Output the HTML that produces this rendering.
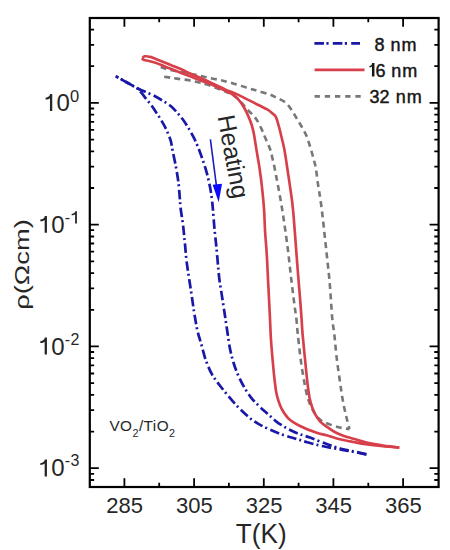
<!DOCTYPE html>
<html><head><meta charset="utf-8"><style>
html,body{margin:0;padding:0;background:#fff;width:450px;height:550px;overflow:hidden}
svg{display:block;font-family:"Liberation Sans",sans-serif}
</style></head><body>
<svg width="450" height="550" viewBox="0 0 450 550">
<rect width="450" height="550" fill="#fff"/>
<g fill="none" stroke-linejoin="round">
<path d="M160.7,67.1 C162.3,67.6 164.8,68.8 170.2,70.0 C175.6,71.2 187.2,73.1 193.0,74.3 C198.8,75.5 200.8,76.1 205.0,77.0 C209.2,77.9 213.9,78.7 218.3,79.7 C222.8,80.7 226.9,81.7 231.7,83.0 C236.5,84.3 242.8,86.5 247.2,87.8 C251.6,89.1 254.6,90.0 258.3,91.1 C262.0,92.2 266.3,93.3 269.4,94.4 C272.5,95.5 274.0,96.4 276.7,97.8 C279.4,99.2 283.1,100.5 285.6,102.6 C288.1,104.7 289.9,107.5 291.8,110.2 C293.7,113.0 295.3,116.1 297.1,119.1 C298.9,122.1 300.8,125.0 302.4,128.0 C304.0,131.0 305.6,133.6 306.9,136.9 C308.2,140.2 309.3,144.1 310.4,147.6 C311.5,151.1 312.5,154.8 313.4,158.2 C314.3,161.6 315.0,163.4 315.8,168.0 C316.6,172.6 317.4,180.3 318.2,185.6 C319.0,190.9 319.7,194.3 320.5,200.0 C321.3,205.7 322.2,213.0 323.0,220.0 C323.8,227.0 324.6,234.8 325.4,242.2 C326.2,249.6 327.0,257.0 327.8,264.4 C328.6,271.8 329.3,277.8 330.0,286.7 C330.7,295.6 331.5,309.9 332.2,317.8 C332.9,325.8 333.5,327.5 334.3,334.4 C335.1,341.2 335.8,350.8 336.8,358.9 C337.8,367.0 339.3,376.8 340.2,383.3 C341.1,389.8 341.7,393.9 342.4,398.0 C343.1,402.1 343.6,404.8 344.3,408.0 C345.0,411.2 345.7,414.1 346.4,417.0 C347.1,419.9 348.0,423.6 348.5,425.6 C349.0,427.6 349.4,428.4 349.6,429.0" stroke="#777777" stroke-width="2.6" stroke-dasharray="6 4.3"/>
<path d="M164.2,76.7 C165.4,76.9 168.9,77.4 171.3,77.8 C173.7,78.2 175.7,78.5 178.6,78.9 C181.5,79.3 185.7,79.7 189.0,80.3 C192.3,80.9 195.4,81.6 198.3,82.3 C201.2,83.0 202.5,83.0 206.3,84.3 C210.1,85.5 216.9,88.2 221.0,89.8 C225.1,91.4 228.5,92.8 231.0,94.0 C233.5,95.2 234.3,95.7 236.1,97.2 C237.9,98.7 239.8,100.8 241.7,102.8 C243.5,104.8 245.3,107.4 247.2,109.4 C249.0,111.4 251.1,113.1 252.8,115.0 C254.5,116.9 255.7,118.2 257.2,120.6 C258.7,123.0 260.5,126.8 261.7,129.4 C262.9,132.0 263.5,133.7 264.5,136.0 C265.5,138.3 266.5,140.7 267.5,143.0 C268.5,145.3 269.3,146.5 270.4,150.0 C271.4,153.5 272.6,158.9 273.8,164.2 C275.0,169.5 276.1,175.8 277.3,182.0 C278.5,188.2 279.8,195.3 280.9,201.6 C282.0,207.9 282.6,212.1 283.8,220.0 C285.0,227.9 286.6,239.3 287.8,248.9 C289.0,258.5 290.0,268.6 291.1,277.8 C292.2,287.1 293.5,297.4 294.4,304.4 C295.3,311.4 295.9,315.0 296.5,320.0 C297.1,325.0 297.0,327.1 297.8,334.4 C298.6,341.7 300.1,355.2 301.3,363.8 C302.5,372.4 303.9,380.1 305.0,385.8 C306.1,391.5 306.8,394.6 307.8,398.0 C308.8,401.4 309.7,403.8 311.0,406.5 C312.3,409.2 314.0,412.3 315.5,414.5 C317.0,416.7 318.2,418.1 320.0,419.5 C321.8,420.9 323.1,421.8 326.0,423.0 C328.9,424.2 334.2,426.1 337.6,427.0 C341.0,427.9 344.4,428.3 346.4,428.6 C348.4,428.9 349.1,428.9 349.6,429.0" stroke="#777777" stroke-width="2.6" stroke-dasharray="6 4.3"/>
<path d="M142.4,58.0 C142.6,58.3 141.6,59.0 143.6,59.7 C145.6,60.4 151.0,61.2 154.7,62.4 C158.4,63.6 162.1,65.4 165.8,66.9 C169.5,68.4 173.2,69.8 176.9,71.3 C180.6,72.8 182.8,73.6 188.0,75.6 C193.2,77.6 201.6,80.6 207.8,83.1 C214.0,85.6 221.0,88.8 225.0,90.6 C229.0,92.4 229.5,92.4 231.7,93.9 C233.9,95.4 236.3,97.2 238.3,99.4 C240.3,101.6 242.2,104.4 243.9,107.2 C245.6,110.0 247.0,113.1 248.3,116.1 C249.6,119.1 250.8,122.0 251.7,125.0 C252.6,128.0 253.1,129.7 253.9,133.9 C254.7,138.1 255.8,145.7 256.5,150.0 C257.2,154.3 257.6,156.7 258.2,160.0 C258.8,163.3 259.1,165.2 259.8,170.0 C260.5,174.8 261.5,182.7 262.2,189.1 C262.9,195.5 263.5,201.9 264.0,208.7 C264.5,215.5 264.6,222.6 265.0,230.0 C265.4,237.4 266.1,243.9 266.7,253.3 C267.3,262.8 267.8,275.8 268.4,286.7 C268.9,297.6 269.6,310.0 270.0,318.9 C270.4,327.8 270.5,332.1 271.0,340.0 C271.5,347.9 272.6,359.5 273.2,366.2 C273.8,372.9 274.1,375.9 274.6,380.0 C275.1,384.1 275.4,387.5 276.0,391.0 C276.6,394.5 277.5,397.9 278.5,401.0 C279.5,404.1 280.2,406.4 282.0,409.5 C283.8,412.6 286.3,416.6 289.3,419.3 C292.3,422.1 295.6,423.8 300.0,426.0 C304.4,428.2 311.6,431.1 316.0,432.6 C320.4,434.2 322.7,434.2 326.7,435.3 C330.7,436.4 335.6,438.2 340.0,439.3 C344.4,440.4 349.0,441.2 353.3,442.0 C357.6,442.8 360.7,443.5 365.6,444.2 C370.6,444.9 377.4,445.7 383.0,446.3 C388.6,446.9 396.6,447.4 399.3,447.6" stroke="#d73f4a" stroke-width="2.65"/>
<path d="M142.4,58.0 C142.8,57.7 143.4,56.5 144.7,56.3 C146.0,56.1 147.6,56.1 150.2,56.9 C152.8,57.6 156.7,59.4 160.2,60.8 C163.7,62.2 167.6,63.7 171.3,65.2 C175.0,66.7 179.3,68.3 182.4,69.7 C185.5,71.1 185.8,71.6 190.0,73.5 C194.2,75.4 202.0,78.6 207.8,81.3 C213.6,84.0 220.3,87.3 225.0,89.4 C229.7,91.5 232.4,92.2 236.1,93.9 C239.8,95.6 243.5,97.6 247.2,99.4 C250.9,101.2 255.0,103.3 258.3,105.0 C261.6,106.7 264.8,108.0 267.2,109.4 C269.6,110.8 271.1,112.3 272.5,113.5 C273.9,114.7 274.8,114.7 275.8,116.8 C276.9,118.9 277.9,122.8 278.8,126.2 C279.8,129.6 280.6,133.3 281.5,137.0 C282.4,140.7 283.4,144.8 284.2,148.5 C284.9,152.2 285.4,155.8 286.0,159.5 C286.6,163.2 287.1,167.0 287.7,171.0 C288.3,175.0 288.9,178.9 289.6,183.6 C290.3,188.3 291.2,194.8 291.8,199.0 C292.4,203.2 292.4,203.7 292.9,208.7 C293.4,213.7 294.2,223.5 294.6,229.1 C295.1,234.7 295.1,235.2 295.6,242.2 C296.1,249.2 297.1,261.8 297.8,271.1 C298.5,280.4 299.4,289.8 300.0,297.8 C300.6,305.8 301.2,312.8 301.6,318.9 C302.0,325.0 302.0,327.7 302.6,334.4 C303.2,341.1 304.2,350.8 305.0,358.9 C305.8,367.0 306.7,376.8 307.5,383.3 C308.3,389.8 308.9,394.1 309.6,398.0 C310.4,401.9 311.1,404.1 312.0,406.7 C312.9,409.2 313.4,410.9 314.7,413.3 C316.0,415.7 318.0,419.1 320.0,421.3 C322.0,423.5 324.2,424.9 326.7,426.7 C329.1,428.5 331.8,430.4 334.7,432.0 C337.6,433.6 340.9,434.9 344.0,436.0 C347.1,437.1 349.7,437.6 353.3,438.7 C356.9,439.8 360.6,441.1 365.6,442.3 C370.6,443.5 377.7,444.7 383.3,445.6 C388.9,446.5 396.6,447.3 399.3,447.6" stroke="#d73f4a" stroke-width="2.65"/>
<path d="M115.6,76.1 C117.7,77.3 124.7,81.3 128.3,83.3 C131.9,85.3 135.0,86.7 137.2,88.3 C139.4,89.9 139.8,90.9 141.3,92.7 C142.9,94.5 144.8,97.2 146.5,99.3 C148.2,101.3 149.7,103.0 151.2,105.0 C152.7,107.0 154.1,109.3 155.6,111.6 C157.1,113.8 158.8,116.2 160.2,118.5 C161.6,120.8 162.9,123.0 164.2,125.4 C165.5,127.8 166.7,130.4 167.8,133.0 C168.9,135.6 169.9,137.9 170.7,140.7 C171.5,143.5 171.7,145.8 172.5,150.0 C173.3,154.2 174.8,160.8 175.8,166.2 C176.8,171.6 177.7,176.9 178.4,182.2 C179.1,187.5 179.4,193.7 179.8,198.0 C180.2,202.3 180.1,203.4 180.6,208.0 C181.1,212.6 182.4,219.7 183.1,225.6 C183.8,231.5 184.3,237.5 184.9,243.3 C185.5,249.1 185.8,254.8 186.5,260.5 C187.2,266.2 188.1,271.9 189.0,277.8 C189.9,283.7 190.8,289.7 191.7,295.6 C192.6,301.5 193.3,307.4 194.3,313.3 C195.3,319.2 196.3,325.9 197.5,331.0 C198.7,336.1 199.9,339.3 201.3,344.2 C202.7,349.1 204.0,355.2 205.8,360.2 C207.6,365.2 209.7,370.3 212.0,374.4 C214.3,378.5 216.8,381.4 219.5,385.0 C222.2,388.6 225.4,392.6 228.5,396.3 C231.6,400.0 234.7,403.6 238.0,407.0 C241.3,410.4 245.1,414.0 248.4,416.8 C251.7,419.6 254.4,421.6 258.0,423.7 C261.6,425.8 265.8,427.8 270.0,429.7 C274.2,431.6 278.9,433.4 283.3,435.0 C287.8,436.6 292.7,437.8 296.7,439.0 C300.7,440.2 302.9,441.1 307.3,442.3 C311.7,443.5 317.7,445.1 323.3,446.3 C328.9,447.5 336.3,448.7 341.1,449.6 C345.9,450.5 347.8,450.7 352.0,451.5 C356.2,452.3 364.0,453.9 366.4,454.4" stroke="#1a18a6" stroke-width="2.7" stroke-dasharray="9.5 3 2 3.5" stroke-dashoffset="6.7"/>
<path d="M115.6,76.1 C117.7,77.3 124.7,81.3 128.3,83.3 C131.9,85.3 134.6,87.0 137.2,88.3 C139.8,89.6 141.3,90.1 144.0,91.3 C146.7,92.5 150.2,93.7 153.3,95.3 C156.4,96.9 159.8,98.9 162.7,100.7 C165.6,102.5 168.3,104.0 170.7,106.0 C173.1,108.0 175.3,110.5 177.3,112.7 C179.3,114.9 180.9,116.9 182.7,119.3 C184.5,121.7 186.2,124.4 188.0,127.3 C189.8,130.2 191.7,133.6 193.3,136.7 C194.9,139.8 196.1,142.3 197.6,146.0 C199.1,149.7 200.8,154.5 202.4,159.1 C204.0,163.7 205.6,168.5 206.9,173.3 C208.2,178.1 209.3,183.6 210.2,188.0 C211.0,192.4 211.6,196.7 212.0,200.0 C212.4,203.3 212.4,203.7 212.8,208.0 C213.2,212.3 213.7,219.7 214.2,225.6 C214.7,231.5 215.4,237.5 216.0,243.3 C216.6,249.1 217.1,254.8 217.6,260.5 C218.1,266.2 218.5,271.9 219.2,277.8 C219.9,283.7 221.0,289.7 221.9,295.6 C222.8,301.5 223.7,307.6 224.6,313.3 C225.5,319.0 226.2,324.2 227.1,330.0 C228.0,335.8 228.8,342.5 229.8,347.8 C230.8,353.1 232.0,357.6 233.3,362.0 C234.6,366.4 236.0,370.2 237.8,374.4 C239.6,378.5 241.8,383.0 244.0,386.9 C246.2,390.8 248.7,394.6 251.1,397.6 C253.5,400.7 256.0,403.0 258.2,405.2 C260.4,407.4 262.4,409.2 264.4,411.0 C266.4,412.8 267.9,414.2 270.0,416.0 C272.1,417.8 273.8,419.7 276.7,421.8 C279.6,423.9 283.8,426.6 287.3,428.5 C290.9,430.4 294.2,432.0 298.0,433.5 C301.8,435.0 305.2,435.9 310.0,437.6 C314.8,439.4 321.7,442.2 326.7,444.0 C331.7,445.8 335.8,447.3 340.0,448.5 C344.2,449.7 347.6,450.0 352.0,451.0 C356.4,452.0 364.0,453.8 366.4,454.4" stroke="#1a18a6" stroke-width="2.7" stroke-dasharray="9.5 3 2 3.5" stroke-dashoffset="11.2"/>
</g>
<g fill="none">
<path d="M314.4,43.4H360" stroke="#1a18a6" stroke-width="2.7" stroke-dasharray="9.6 2.4 2.2 4.2"/>
<path d="M314.6,69.9H364.5" stroke="#d73f4a" stroke-width="2.65"/>
<path d="M314.6,96.4H362" stroke="#777777" stroke-width="2.6" stroke-dasharray="5.3 4.9"/>
</g>
<g font-size="18" fill="#161616" stroke="#161616" stroke-width="0.45">
<text x="374.6" y="51">8 <tspan dx="0.8">n</tspan><tspan dx="1.0">m</tspan></text>
<text x="375.6" y="76.6">6 <tspan dx="0.6">n</tspan><tspan dx="1.0">m</tspan></text>
<text x="369.6" y="103">32 <tspan dx="1.0">n</tspan><tspan dx="1.2">m</tspan></text>
</g>
<path d="M371.95,76.60V66.26C371.15,66.94 371.60,67.35 369.40,67.35V65.92C372.00,65.72 371.75,64.63 372.15,63.00H374.45V76.60Z" fill="#161616"/>
<path d="M210.4,139.3L216.6,187" stroke="#1c1cc4" stroke-width="1.6" fill="none"/>
<path d="M212.6,184.8L222,183.8L218.7,202.2Z" fill="#0a0aff"/>
<text transform="translate(217.4,116.6) rotate(79.5)" font-size="24.5" fill="#262626">Heating</text>
<text x="109.4" y="431.4" font-size="15.3" fill="#262626" letter-spacing="0.45">VO<tspan font-size="10.8" dy="5.4">2</tspan><tspan dy="-5.4">/TiO</tspan><tspan font-size="10.8" dy="5.4">2</tspan></text>
<rect x="89.8" y="18.0" width="348.8" height="469.0" fill="none" stroke="#000" stroke-width="2.2"/>
<path d="M124.4,487.0V478.2 M124.4,18.0V26.8 M159.2,487.0V482.7 M159.2,18.0V22.3 M194.1,487.0V478.2 M194.1,18.0V26.8 M228.9,487.0V482.7 M228.9,18.0V22.3 M263.8,487.0V478.2 M263.8,18.0V26.8 M298.6,487.0V482.7 M298.6,18.0V22.3 M333.4,487.0V478.2 M333.4,18.0V26.8 M368.3,487.0V482.7 M368.3,18.0V22.3 M403.1,487.0V478.2 M403.1,18.0V26.8 M89.8,480.0H94.1 M438.6,480.0H434.3 M89.8,473.8H94.1 M438.6,473.8H434.3 M89.8,468.2H98.8 M438.6,468.2H429.6 M89.8,431.6H94.1 M438.6,431.6H434.3 M89.8,410.1H94.1 M438.6,410.1H434.3 M89.8,394.9H94.1 M438.6,394.9H434.3 M89.8,383.1H94.1 M438.6,383.1H434.3 M89.8,373.5H94.1 M438.6,373.5H434.3 M89.8,365.3H94.1 M438.6,365.3H434.3 M89.8,358.2H94.1 M438.6,358.2H434.3 M89.8,352.0H94.1 M438.6,352.0H434.3 M89.8,346.4H98.8 M438.6,346.4H429.6 M89.8,309.8H94.1 M438.6,309.8H434.3 M89.8,288.3H94.1 M438.6,288.3H434.3 M89.8,273.1H94.1 M438.6,273.1H434.3 M89.8,261.3H94.1 M438.6,261.3H434.3 M89.8,251.7H94.1 M438.6,251.7H434.3 M89.8,243.5H94.1 M438.6,243.5H434.3 M89.8,236.5H94.1 M438.6,236.5H434.3 M89.8,230.2H94.1 M438.6,230.2H434.3 M89.8,224.7H98.8 M438.6,224.7H429.6 M89.8,188.0H94.1 M438.6,188.0H434.3 M89.8,166.6H94.1 M438.6,166.6H434.3 M89.8,151.4H94.1 M438.6,151.4H434.3 M89.8,139.6H94.1 M438.6,139.6H434.3 M89.8,129.9H94.1 M438.6,129.9H434.3 M89.8,121.8H94.1 M438.6,121.8H434.3 M89.8,114.7H94.1 M438.6,114.7H434.3 M89.8,108.5H94.1 M438.6,108.5H434.3 M89.8,102.9H98.8 M438.6,102.9H429.6 M89.8,66.2H94.1 M438.6,66.2H434.3 M89.8,44.8H94.1 M438.6,44.8H434.3 M89.8,29.6H94.1 M438.6,29.6H434.3" stroke="#000" stroke-width="1.8" fill="none"/>
<g font-size="24" fill="#262626">
<path d="M49.95,111.00V98.16C49.15,99.00 47.80,99.51 45.60,99.51V97.73C48.20,97.48 49.75,96.13 50.15,94.10H52.25V111.00Z" fill="#262626"/><text x="56.6" y="111.0">0<tspan font-size="16.5" dy="-9.2">0</tspan></text>
<path d="M44.65,232.80V219.96C43.85,220.80 42.50,221.31 40.30,221.31V219.53C42.90,219.28 44.45,217.93 44.85,215.90H46.95V232.80Z" fill="#262626"/><text x="51.3" y="232.8">0<tspan font-size="16" dy="-10">-</tspan></text><path d="M75.10,223.50V214.23C74.30,214.84 73.80,215.20 71.60,215.20V213.92C74.20,213.74 74.90,212.76 75.30,211.30H76.90V223.50Z" fill="#262626"/>
<path d="M44.65,354.50V341.66C43.85,342.50 42.50,343.01 40.30,343.01V341.23C42.90,340.98 44.45,339.63 44.85,337.60H46.95V354.50Z" fill="#262626"/><text x="51.3" y="354.5">0<tspan font-size="16" dy="-10" letter-spacing="0.6">-2</tspan></text>
<path d="M44.65,476.40V463.56C43.85,464.40 42.50,464.91 40.30,464.91V463.13C42.90,462.88 44.45,461.53 44.85,459.50H46.95V476.40Z" fill="#262626"/><text x="51.3" y="476.4">0<tspan font-size="16" dy="-10" letter-spacing="0.6">-3</tspan></text>
</g>
<g font-size="22" fill="#262626" text-anchor="middle">
<text x="124.7" y="513">285</text>
<text x="194.4" y="513">305</text>
<text x="264.1" y="513">325</text>
<text x="333.7" y="513">345</text>
<text x="403.4" y="513">365</text>
</g>
<text transform="translate(261.2,543.3) scale(0.95,1)" font-size="27.5" fill="#262626" text-anchor="middle">T(K)</text>
<text transform="translate(28.5,264.5) rotate(-90) scale(1.3,1)" font-size="21" fill="#262626" text-anchor="middle">ρ(Ωcm)</text>
</svg>
</body></html>
